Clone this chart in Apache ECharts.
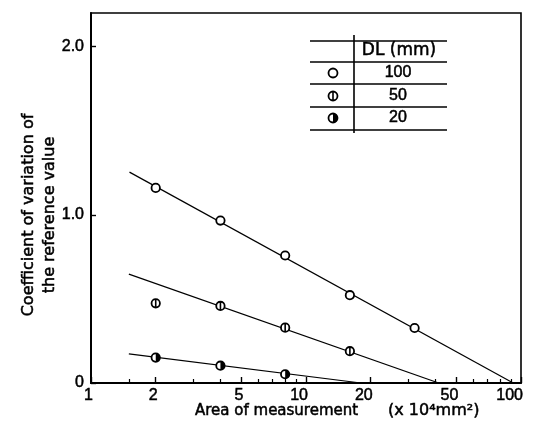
<!DOCTYPE html>
<html>
<head>
<meta charset="utf-8">
<script src="https://cdn.jsdelivr.net/npm/echarts@6/dist/echarts.min.js"></script>
<style>
  html, body { margin: 0; padding: 0; background: #fff; }
  #chart { width: 541px; height: 424px; }
</style>
</head>
<body>
<div id="chart"></div>
<script>
// Coefficient of variation of the reference value vs. area of measurement (x 10^4 mm^2)
const dl100X = [2, 4, 8, 16, 32];
const dl100Y = [1.16, 0.966, 0.758, 0.522, 0.327];
const dl50X = [2, 4, 8, 16];
const dl50Y = [0.474, 0.458, 0.329, 0.189];
const dl20X = [2, 4, 8];
const dl20Y = [0.151, 0.103, 0.052];

// Fitted lines, given by their two end points [area, CV]
const fit100 = [[1.51, 1.254], [92, 0]];
const fit50 = [[1.5, 0.647], [41.4, 0]];
const fit20 = [[1.5, 0.173], [18, 0]];

// Axis ticks
const xMajorTicks = [1, 2, 5, 10, 20, 50, 100];
const xMinorTicks = [1.5, 3, 4, 6, 7, 8, 9, 30, 40, 60, 70, 80, 90];
const yTicks = [0, 1, 2];

// Table of DL values and their marker kinds
const dlHeader = 'DL (mm)';
const dlLabels = ['100', '50', '20'];
const dlMarkers = ['open', 'bar', 'half'];

const TITLE_FONT = 'DejaVu Sans';
const NUM_FONT = 'Liberation Sans';
const INK = 0.5; // outline width that gives the text a slightly heavier weight

function zip(xs, ys) { return xs.map((x, i) => [x, ys[i]]); }

// Circle marker: open, with a vertical bar, or with the right half filled
function markerShapes(kind, cx, cy, r) {
  const shapes = [{
    type: 'circle',
    shape: { cx: cx, cy: cy, r: r },
    style: { fill: '#fff', stroke: '#000', lineWidth: 1.8 }
  }];
  if (kind === 'bar') {
    shapes.push({
      type: 'line',
      shape: { x1: cx, y1: cy - r, x2: cx, y2: cy + r },
      style: { stroke: '#000', lineWidth: 1.6 }
    });
  } else if (kind === 'half') {
    shapes.push({
      type: 'sector',
      shape: { cx: cx, cy: cy, r0: 0, r: r, startAngle: -Math.PI / 2, endAngle: Math.PI / 2, clockwise: true },
      style: { fill: '#000' }
    });
  }
  return shapes;
}

function markerSeries(kind, data) {
  return {
    type: 'custom',
    xAxisIndex: 0,
    yAxisIndex: 0,
    data: data,
    clip: false,
    z: 5,
    renderItem: function (params, api) {
      const p = api.coord([api.value(0), api.value(1)]);
      return { type: 'group', children: markerShapes(kind, p[0], p[1], 4.2) };
    }
  };
}

function fitSeries(data) {
  return {
    type: 'line',
    xAxisIndex: 0,
    yAxisIndex: 0,
    data: data,
    symbol: 'none',
    silent: true,
    lineStyle: { color: '#000', width: 1.2 },
    z: 3
  };
}

function textStyle(text, size, family, align) {
  return {
    text: text,
    font: size + 'px "' + family + '"',
    fill: '#000', stroke: '#000', lineWidth: INK,
    align: align || 'center', verticalAlign: 'middle'
  };
}

// Table drawn at the upper right of the plot
const tableLeft = 310, tableRight = 447, tableDivider = 354;
const rowLines = [41, 62, 84, 107, 130];
const rowCenters = [73, 96, 118];
const tableGraphics = [];
rowLines.forEach(function (y) {
  tableGraphics.push({
    type: 'line',
    shape: { x1: tableLeft, y1: y, x2: tableRight, y2: y },
    style: { stroke: '#000', lineWidth: 1.6 }
  });
});
tableGraphics.push({
  type: 'line',
  shape: { x1: tableDivider, y1: 35, x2: tableDivider, y2: 133 },
  style: { stroke: '#000', lineWidth: 1.6 }
});
tableGraphics.push({ type: 'text', x: 399, y: 51, style: textStyle(dlHeader, 17, TITLE_FONT) });
dlLabels.forEach(function (label, i) {
  tableGraphics.push({ type: 'text', x: 398, y: rowCenters[i], style: textStyle(label, 16, NUM_FONT) });
  tableGraphics.push({ type: 'group', children: markerShapes(dlMarkers[i], 333, rowCenters[i], 4.5) });
});

const tickLabel = {
  color: '#000', fontSize: 16, fontFamily: NUM_FONT,
  textBorderColor: '#000', textBorderWidth: INK
};

const chart = echarts.init(document.getElementById('chart'), null, { renderer: 'canvas' });

chart.setOption({
  animation: false,
  backgroundColor: '#fff',
  grid: {
    left: 91, right: 20, top: 13, bottom: 41,
    show: true, borderColor: '#000', borderWidth: 1.6, backgroundColor: 'transparent'
  },
  xAxis: [
    {
      type: 'log', logBase: 10, min: 1, max: 100, position: 'bottom',
      axisLine: { show: true, lineStyle: { color: '#000', width: 2 } },
      axisTick: { show: true, inside: true, length: 6, customValues: xMajorTicks, lineStyle: { color: '#000', width: 1.4 } },
      axisLabel: Object.assign({
        customValues: xMajorTicks, margin: 5, align: 'right', padding: [0, -2, 0, 0],
        formatter: function (v) { return String(Math.round(v)); }
      }, tickLabel),
      splitLine: { show: false },
      minorTick: { show: false }
    },
    {
      type: 'log', logBase: 10, min: 1, max: 100, position: 'bottom',
      axisLine: { show: false },
      axisTick: { show: true, inside: true, length: 4, customValues: xMinorTicks, lineStyle: { color: '#000', width: 1.2 } },
      axisLabel: { show: false },
      splitLine: { show: false }
    }
  ],
  yAxis: {
    type: 'value', min: 0, max: 2.2,
    axisLine: { show: true, lineStyle: { color: '#000', width: 2 } },
    axisTick: { show: true, inside: true, length: 5, customValues: yTicks, lineStyle: { color: '#000', width: 1.4 } },
    axisLabel: Object.assign({
      customValues: yTicks, margin: 7,
      formatter: function (v) { return v === 0 ? '0' : v.toFixed(1); }
    }, tickLabel),
    splitLine: { show: false }
  },
  series: [
    fitSeries(fit100),
    fitSeries(fit50),
    fitSeries(fit20),
    markerSeries('open', zip(dl100X, dl100Y)),
    markerSeries('bar', zip(dl50X, dl50Y)),
    markerSeries('half', zip(dl20X, dl20Y))
  ],
  graphic: [
    {
      type: 'text',
      x: 39, y: 215,
      rotation: Math.PI / 2,
      style: Object.assign(textStyle('Coefficient of variation of\nthe reference value', 16, TITLE_FONT), { lineHeight: 21 })
    },
    {
      type: 'text',
      x: 195, y: 411,
      style: textStyle('Area of measurement', 15, TITLE_FONT, 'left')
    },
    {
      type: 'text',
      x: 388, y: 411,
      style: textStyle('(x 10\u2074mm\u00B2)', 16, TITLE_FONT, 'left')
    }
  ].concat(tableGraphics)
});
</script>
</body>
</html>
